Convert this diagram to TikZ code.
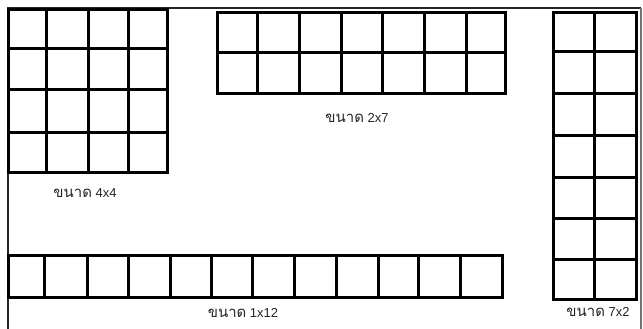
\documentclass[tikz,border=0pt]{standalone}
\usepackage{fontspec}
\setmainfont{Liberation Sans}
\newfontfamily\thaifont[Script=Thai,Scale=1.15]{Loma}
\begin{document}
\begin{tikzpicture}[x=1pt,y=-1pt,
  gridline/.style={line width=3pt, black, line cap=rect},
  framedark/.style={line width=2.2pt, black!85},
  framelight/.style={line width=1.2pt, black!55},
  lbl/.style={font=\fontsize{13}{15}\selectfont, text=black!85, inner sep=0pt}]
\useasboundingbox (0,0) rectangle (643,329);
\fill[white] (0,0) rectangle (643,329);
% frame
\draw[framedark] (8,329) -- (8,8) -- (641,8);
\draw[framelight] (641,8) -- (641,329);
% 4x4 grid
\foreach \x in {8,46,88,128,167} \draw[gridline] (\x,10) -- (\x,172);
\foreach \y in {10,49,90,132,172} \draw[gridline] (8,\y) -- (167,\y);
% 2x7 grid
\foreach \x in {217,257,299,341,382,424,466,505} \draw[gridline] (\x,13) -- (\x,94);
\foreach \y in {13,53,94} \draw[gridline] (217,\y) -- (505,\y);
% 7x2 grid
\foreach \x in {553,594,636} \draw[gridline] (\x,13) -- (\x,299);
\foreach \y in {13,52,94,135,177,218,259,299} \draw[gridline] (553,\y) -- (636,\y);
% 1x12 grid
\foreach \x in {8,44,87,128,170,211,252,294,336,378,418,460,502} \draw[gridline] (\x,255) -- (\x,297);
\foreach \y in {255,297} \draw[gridline] (8,\y) -- (502,\y);
% labels
\node[lbl] (l44) at (85,193) {{\thaifont ขนาด} 4x4};
\node[lbl] (l27) at (357,118) {{\thaifont ขนาด} 2x7};
\node[lbl] (l112) at (243,313) {{\thaifont ขนาด} 1x12};
\node[lbl] (l72) at (598,312) {{\thaifont ขนาด} 7x2};
\end{tikzpicture}
\end{document}
